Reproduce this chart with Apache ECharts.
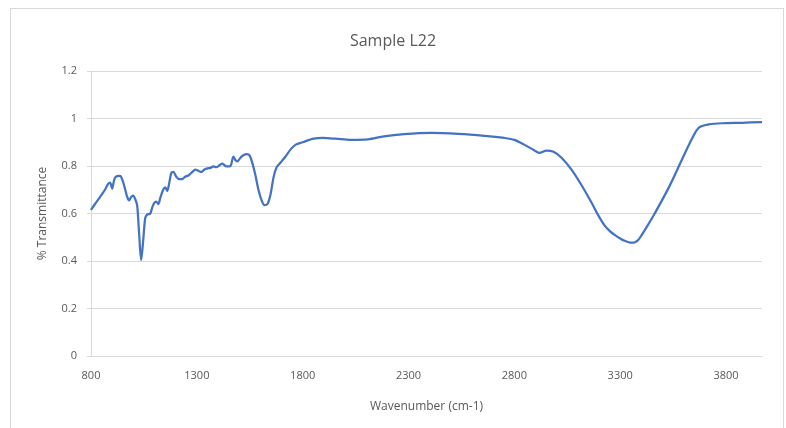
<!DOCTYPE html>
<html>
<head>
<meta charset="utf-8">
<script src="https://cdn.jsdelivr.net/npm/echarts@6/dist/echarts.min.js"></script>
<style>
  html, body { margin: 0; padding: 0; background: #fff; }
  #wrap { position: relative; width: 786px; height: 428px; }
  #chart { position: absolute; left: 0; top: 0; width: 786px; height: 428px; }
  #frame { position: absolute; left: 10px; top: 8px; width: 772px; height: 440px;
           border: 1px solid #d9d9d9; pointer-events: none; }
</style>
</head>
<body>
<div id="wrap">
  <div id="chart"></div>
  <div id="frame"></div>
</div>
<script>
// wavenumber (cm-1) and % transmittance
const wavenumber = [
  800, 819, 843, 866, 881, 890, 900, 909, 918, 933, 942, 956, 971, 980, 990, 999,
  1009, 1018, 1027, 1037, 1046, 1056, 1065, 1080, 1089, 1099, 1108, 1118, 1127, 1141,
  1151, 1160, 1170, 1179, 1189, 1203, 1217, 1231, 1245, 1260, 1279, 1293, 1307, 1321,
  1336, 1350, 1364, 1378, 1392, 1407, 1421, 1435, 1445, 1459, 1473, 1482, 1492, 1506,
  1520, 1535, 1549, 1563, 1577, 1591, 1606, 1620, 1634, 1648, 1663, 1677, 1696, 1719,
  1743, 1767, 1800, 1852, 1895, 1956, 2027, 2108, 2184, 2279, 2407, 2535, 2658, 2753,
  2800, 2847, 2890, 2918, 2952, 2985, 3023, 3070, 3117, 3165, 3198, 3226, 3250, 3274, 3300, 3321,
  3340, 3354, 3370, 3385, 3402, 3430, 3463, 3530, 3591, 3639, 3672, 3719, 3781, 3876, 3970
];
const transmittance = [
  0.615, 0.64, 0.67, 0.70, 0.725, 0.73, 0.705, 0.74, 0.755, 0.758, 0.755, 0.72, 0.67, 0.655, 0.67, 0.675,
  0.66, 0.635, 0.52, 0.404, 0.48, 0.58, 0.595, 0.60, 0.625, 0.645, 0.65, 0.64, 0.665, 0.70,
  0.71, 0.695, 0.73, 0.77, 0.775, 0.755, 0.745, 0.745, 0.755, 0.76, 0.775, 0.785, 0.78, 0.775,
  0.785, 0.79, 0.792, 0.798, 0.795, 0.803, 0.81, 0.80, 0.798, 0.80, 0.84, 0.825, 0.82, 0.835,
  0.845, 0.85, 0.845, 0.81, 0.76, 0.70, 0.655, 0.635, 0.64, 0.68, 0.755, 0.795, 0.815, 0.84,
  0.87, 0.89, 0.90, 0.915, 0.918, 0.915, 0.91, 0.912, 0.925, 0.934, 0.939, 0.935, 0.927, 0.918,
  0.91, 0.89, 0.868, 0.855, 0.865, 0.86, 0.835, 0.785, 0.72, 0.645, 0.59, 0.55, 0.527, 0.51, 0.495, 0.485,
  0.479, 0.477, 0.479, 0.488, 0.51, 0.55, 0.60, 0.71, 0.825, 0.915, 0.962, 0.975, 0.98, 0.982, 0.985
];
const xTicks = [800, 1300, 1800, 2300, 2800, 3300, 3800];

const font = '"Open Sans", "Noto Sans", sans-serif';
const grey = '#595959';

const chart = echarts.init(document.getElementById('chart'));
chart.setOption({
  animation: false,
  backgroundColor: '#fff',
  textStyle: { fontFamily: font },
  title: {
    text: 'Sample L22',
    left: 'center',
    top: 28,
    textStyle: { fontFamily: font, fontSize: 16, fontWeight: 'normal', color: grey }
  },
  grid: { left: 91, right: 24, top: 71, bottom: 72 },
  xAxis: {
    type: 'value',
    min: xTicks[0],
    max: 3970,
    interval: 500,
    name: 'Wavenumber (cm-1)',
    nameLocation: 'middle',
    nameGap: 45,
    nameTextStyle: { fontFamily: font, fontSize: 12, color: grey },
    axisLine: { show: true, lineStyle: { color: '#d9d9d9' } },
    axisTick: { show: false },
    axisLabel: {
      fontFamily: font, fontSize: 11, color: grey, margin: 14, showMaxLabel: false,
      formatter: v => xTicks.includes(v) ? String(v) : ''
    },
    splitLine: { show: false }
  },
  yAxis: {
    type: 'value',
    min: 0,
    max: 1.2,
    interval: 0.2,
    name: '% Transmittance',
    nameLocation: 'middle',
    nameGap: 42,
    nameTextStyle: { fontFamily: font, fontSize: 12, color: grey },
    axisLine: { show: true, lineStyle: { color: '#d9d9d9' } },
    axisTick: { show: true, length: 4, lineStyle: { color: '#d9d9d9' } },
    axisLabel: {
      fontFamily: font, fontSize: 11, color: grey, margin: 14,
      formatter: v => String(Math.round(v * 10) / 10)
    },
    splitLine: { lineStyle: { color: '#d9d9d9' } }
  },
  series: [{
    type: 'line',
    data: wavenumber.map((w, i) => [w, transmittance[i]]),
    showSymbol: false,
    smooth: 0.3,
    lineStyle: { color: '#4472c4', width: 2.25 }
  }]
});
</script>
</body>
</html>
